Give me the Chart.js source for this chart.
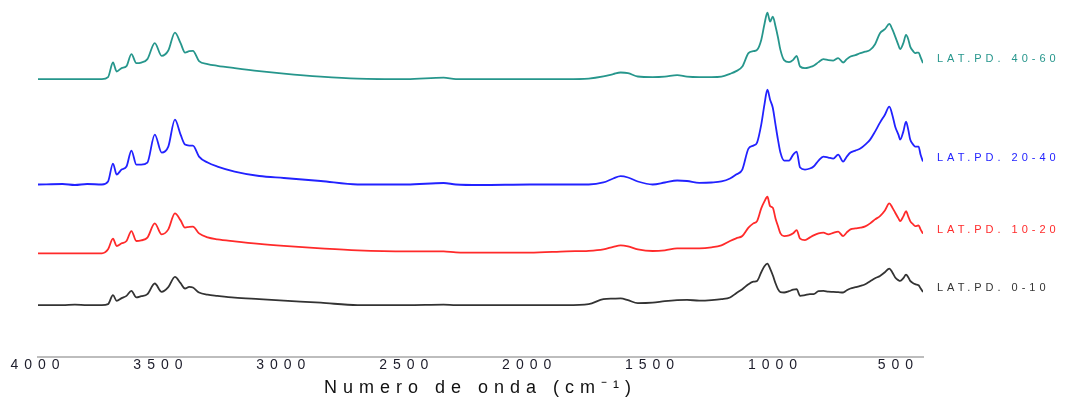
<!DOCTYPE html>
<html>
<head>
<meta charset="utf-8">
<script src="https://cdn.jsdelivr.net/npm/chart.js@4"></script>
<style>
  html, body { margin: 0; padding: 0; background: #fff; }
  #wrap { width: 1092px; height: 397px; }
</style>
</head>
<body>
<div id="wrap"><canvas id="ftir"></canvas></div>
<script>
// wavenumbers (cm-1), shared by all four spectra
const wavenumbers = [
  4000, 3900, 3850, 3800, 3740, 3715, 3695, 3680, 3660, 3640,
  3620, 3600, 3580, 3555, 3525, 3497, 3470, 3443, 3420, 3402,
  3385, 3370, 3345, 3310, 3270, 3200, 3100, 3000, 2850, 2700,
  2500, 2350, 2300, 2200, 2000, 1850, 1760, 1700, 1660, 1630,
  1600, 1560, 1500, 1450, 1400, 1360, 1310, 1260, 1220, 1185,
  1160, 1135, 1110, 1090, 1075, 1058, 1045, 1033, 1022, 1011,
  1000, 990, 980, 965, 945, 928, 914, 900, 880, 860,
  845, 825, 805, 785, 765, 745, 725, 710, 695, 675,
  655, 635, 615, 595, 575, 555, 537, 525, 513, 500,
  493, 480, 469, 460, 452, 440, 432, 425, 418, 410, 400
];

// relative absorbance of each sample (a.u., above its own baseline)
const pd0_10 = [
  0, 0, 0.005, 0, 0, 0.01, 0.1, 0.043, 0.07, 0.093,
  0.143, 0.077, 0.09, 0.11, 0.217, 0.133, 0.18, 0.283, 0.22, 0.167,
  0.183, 0.177, 0.127, 0.105, 0.093, 0.075, 0.06, 0.045, 0.025, 0,
  0, 0.005, 0, 0, 0, 0, 0.01, 0.06, 0.065, 0.067,
  0.05, 0.02, 0.025, 0.04, 0.05, 0.053, 0.045, 0.05, 0.06, 0.077,
  0.12, 0.16, 0.21, 0.235, 0.243, 0.33, 0.39, 0.417, 0.367, 0.3,
  0.22, 0.16, 0.13, 0.127, 0.14, 0.155, 0.16, 0.093, 0.1, 0.11,
  0.11, 0.14, 0.143, 0.135, 0.133, 0.13, 0.127, 0.15, 0.167, 0.18,
  0.193, 0.21, 0.24, 0.27, 0.293, 0.33, 0.367, 0.33, 0.277, 0.25,
  0.243, 0.27, 0.307, 0.28, 0.243, 0.22, 0.21, 0.205, 0.2, 0.17, 0.133
];
const pd10_20 = [
  0, 0, 0, 0, 0, 0.04, 0.147, 0.073, 0.1, 0.123,
  0.223, 0.123, 0.13, 0.157, 0.3, 0.19, 0.24, 0.4, 0.33, 0.257,
  0.265, 0.267, 0.2, 0.16, 0.14, 0.12, 0.095, 0.075, 0.05, 0.03,
  0.02, 0.02, 0.01, 0.007, 0.007, 0.02, 0.025, 0.04, 0.065, 0.08,
  0.07, 0.04, 0.023, 0.03, 0.05, 0.05, 0.05, 0.06, 0.08, 0.123,
  0.15, 0.173, 0.257, 0.3, 0.323, 0.45, 0.52, 0.567, 0.473, 0.457,
  0.35, 0.273, 0.2, 0.173, 0.18, 0.2, 0.233, 0.147, 0.133, 0.16,
  0.18, 0.2, 0.207, 0.19, 0.205, 0.217, 0.173, 0.21, 0.24, 0.25,
  0.257, 0.27, 0.3, 0.34, 0.373, 0.43, 0.5, 0.46, 0.407, 0.35,
  0.323, 0.37, 0.423, 0.37, 0.323, 0.29, 0.273, 0.275, 0.28, 0.24, 0.197
];
const pd20_40 = [
  0, 0.005, -0.005, 0.005, 0, 0.03, 0.21, 0.1, 0.15, 0.18,
  0.34, 0.2, 0.2, 0.22, 0.5, 0.32, 0.38, 0.65, 0.5, 0.4,
  0.39, 0.39, 0.28, 0.22, 0.18, 0.13, 0.085, 0.065, 0.035, 0,
  0, 0.015, 0, -0.005, 0, 0, 0, 0.02, 0.06, 0.083,
  0.07, 0.03, 0, 0.02, 0.04, 0.035, 0.017, 0.02, 0.03, 0.06,
  0.1, 0.15, 0.36, 0.39, 0.42, 0.6, 0.8, 0.95, 0.85, 0.77,
  0.6, 0.45, 0.32, 0.24, 0.24, 0.3, 0.33, 0.17, 0.15, 0.16,
  0.18, 0.24, 0.28, 0.27, 0.26, 0.3, 0.23, 0.28, 0.32, 0.34,
  0.36, 0.4, 0.45, 0.53, 0.62, 0.7, 0.78, 0.7, 0.58, 0.5,
  0.45, 0.53, 0.63, 0.55, 0.45, 0.4, 0.38, 0.38, 0.38, 0.3, 0.23
];
const pd40_60 = [
  0, 0, 0, 0, 0, 0.02, 0.166, 0.076, 0.11, 0.13,
  0.25, 0.16, 0.166, 0.2, 0.36, 0.233, 0.286, 0.466, 0.36, 0.266,
  0.28, 0.283, 0.18, 0.15, 0.133, 0.11, 0.08, 0.055, 0.025, 0.005,
  0, 0.015, 0, 0, 0, 0, 0.005, 0.026, 0.05, 0.066,
  0.06, 0.026, 0.02, 0.025, 0.04, 0.025, 0.02, 0.02, 0.025, 0.053,
  0.08, 0.126, 0.26, 0.28, 0.293, 0.393, 0.55, 0.666, 0.576, 0.626,
  0.53, 0.42, 0.293, 0.19, 0.17, 0.193, 0.233, 0.126, 0.11, 0.12,
  0.133, 0.17, 0.2, 0.19, 0.186, 0.21, 0.166, 0.2, 0.226, 0.24,
  0.26, 0.275, 0.293, 0.35, 0.46, 0.5, 0.553, 0.5, 0.426, 0.34,
  0.3, 0.36, 0.443, 0.4, 0.326, 0.28, 0.26, 0.265, 0.266, 0.22, 0.16
];

const seriesNames = ["LAT.PD. 0-10", "LAT.PD. 10-20", "LAT.PD. 20-40", "LAT.PD. 40-60"];
const seriesValues = [pd0_10, pd10_20, pd20_40, pd40_60];
const stackOffsets = [0.52, 1.04, 1.73, 2.787];   // vertical shift of each trace
const seriesColors = ["#333333", "#ff2a2a", "#2222ff", "#26968c"];
const xTicks = [4000, 3500, 3000, 2500, 2000, 1500, 1000, 500];

const font = "'Liberation Sans', Arial, sans-serif";

// the original has very wide set type
const spacedText = {
  id: "spacedText",
  beforeDraw(chart) {
    chart.ctx.letterSpacing = "6px";
  }
};

// sample names written just right of each trace's end
const endLabels = {
  id: "endLabels",
  afterDatasetsDraw(chart) {
    const ctx = chart.ctx;
    ctx.save();
    ctx.letterSpacing = "4px";
    ctx.font = "11px " + font;
    ctx.textBaseline = "middle";
    ctx.textAlign = "left";
    chart.data.datasets.forEach((ds, i) => {
      const pts = chart.getDatasetMeta(i).data;
      const last = pts[pts.length - 1];
      ctx.fillStyle = ds.borderColor;
      ctx.fillText(ds.label, last.x + 14, last.y - 4);
    });
    ctx.restore();
  }
};

const datasets = seriesNames.map((name, i) => ({
  label: name,
  data: wavenumbers.map((w, j) => ({ x: w, y: seriesValues[i][j] + stackOffsets[i] })),
  borderColor: seriesColors[i],
  borderWidth: 1.8,
  pointRadius: 0,
  cubicInterpolationMode: "monotone",
  fill: false
}));

new Chart(document.getElementById("ftir"), {
  type: "line",
  data: { datasets },
  plugins: [spacedText, endLabels],
  options: {
    responsive: true,
    maintainAspectRatio: false,
    animation: false,
    layout: { padding: { left: 38, right: 169, top: 0, bottom: 0 } },
    plugins: { legend: { display: false }, tooltip: { enabled: false } },
    scales: {
      x: {
        type: "linear",
        reverse: true,
        min: 400,
        max: 4000,
        afterBuildTicks: (scale) => { scale.ticks = xTicks.map(v => ({ value: v })); },
        grid: { display: false, drawTicks: false },
        border: { display: true, color: "#bdbdbd", width: 2 },
        ticks: {
          autoSkip: false,
          maxRotation: 0,
          padding: 1,
          color: "#1c1c2a",
          font: { family: font, size: 14, lineHeight: 1 },
          callback: (v) => String(v)
        },
        title: {
          display: true,
          text: "Numero de onda (cm\u207B\u00B9)",
          color: "#111",
          padding: { top: 6, bottom: 0 },
          font: { family: font, size: 18, lineHeight: 1 }
        }
      },
      y: {
        display: false,
        min: 0,
        max: 3.58
      }
    }
  }
});
</script>
</body>
</html>
